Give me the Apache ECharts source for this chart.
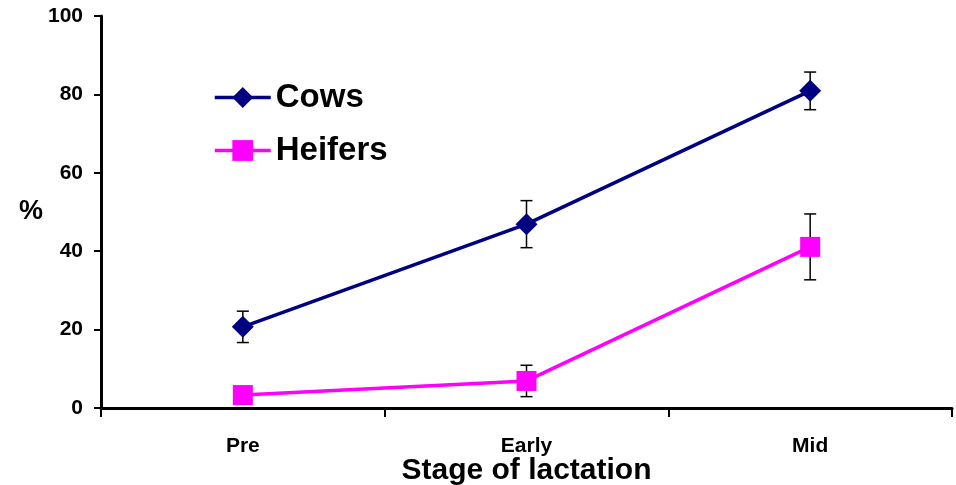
<!DOCTYPE html>
<html><head><meta charset="utf-8">
<script src="https://cdn.jsdelivr.net/npm/echarts@6/dist/echarts.min.js"></script>
<style>html,body{margin:0;padding:0;background:#fff}#c{width:956px;height:485px}</style>
</head><body><div id="c"></div>
<script>
const categories = ['Pre', 'Early', 'Mid'];
const cows = [20.7, 46.9, 80.9];
const cowsErr = [4.0, 6.0, 4.8];
const heifers = [3.3, 6.9, 41.1];
const heifersErr = [0, 4.0, 8.4];
const yTicks = [0, 20, 40, 60, 80, 100];

const chart = echarts.init(document.getElementById('c'));
function errSeries(vals, errs) {
  return {
    type: 'custom',
    z: 1,
    data: vals.map((v, i) => [i, v - errs[i], v + errs[i]]),
    renderItem: function (params, api) {
      const lo = api.coord([api.value(0), api.value(1)]);
      const hi = api.coord([api.value(0), api.value(2)]);
      const w = 6;
      const st = {stroke: '#000', lineWidth: 1.5};
      return {type: 'group', children: [
        {type: 'line', shape: {x1: lo[0], y1: lo[1], x2: hi[0], y2: hi[1]}, style: st},
        {type: 'line', shape: {x1: lo[0]-w, y1: lo[1], x2: lo[0]+w, y2: lo[1]}, style: st},
        {type: 'line', shape: {x1: hi[0]-w, y1: hi[1], x2: hi[0]+w, y2: hi[1]}, style: st}
      ]};
    },
    tooltip: {show: false},
    silent: true
  };
}
const font = 'Liberation Sans, Arial, sans-serif';
chart.setOption({
  animation: false,
  grid: {left: 101, right: 4, top: 16, bottom: 77, containLabel: false, outerBoundsMode: 'none'},
  legend: {
    left: 208, top: 76, orient: 'vertical', itemGap: 20,
    itemWidth: 56, itemHeight: 26,
    textStyle: {fontFamily: font, fontWeight: 'bold', fontSize: 33, color: '#000'},
    data: [
      {name: 'Cows', lineStyle: {width: 3.5}},
      {name: 'Heifers', lineStyle: {width: 3.5}}
    ]
  },
  xAxis: {
    type: 'category', data: categories, boundaryGap: true,
    axisLine: {lineStyle: {color: '#000', width: 3}},
    axisTick: {show: true, length: 9, lineStyle: {color: '#000', width: 2}},
    axisLabel: {fontFamily: font, fontWeight: 'bold', fontSize: 21, color: '#000', margin: 28},
    name: 'Stage of lactation', nameLocation: 'middle', nameGap: 48, nameMoveOverlap: false,
    nameTextStyle: {fontFamily: font, fontWeight: 'bold', fontSize: 30, color: '#000'}
  },
  yAxis: {
    type: 'value', min: 0, max: 100, interval: 20,
    splitLine: {show: false},
    axisLine: {show: true, lineStyle: {color: '#000', width: 3}},
    axisTick: {show: true, length: 7, lineStyle: {color: '#000', width: 2}},
    axisLabel: {fontFamily: font, fontWeight: 'bold', fontSize: 21, color: '#000', margin: 18,
      formatter: v => yTicks.includes(v) ? String(v) : ''},
    name: '%', nameLocation: 'middle', nameGap: 58, nameRotate: 0, nameMoveOverlap: false,
    nameTextStyle: {fontFamily: font, fontWeight: 'bold', fontSize: 27, color: '#000'}
  },
  series: [
    errSeries(cows, cowsErr),
    errSeries(heifers, heifersErr),
    {name: 'Cows', type: 'line', data: cows, z: 3,
      lineStyle: {color: '#000080', width: 3.5}, itemStyle: {color: '#000080'},
      symbol: 'diamond', symbolSize: 22},
    {name: 'Heifers', type: 'line', data: heifers, z: 3,
      lineStyle: {color: '#FF00FF', width: 3.5}, itemStyle: {color: '#FF00FF'},
      symbol: 'rect', symbolSize: 20}
  ]
});
</script></body></html>
